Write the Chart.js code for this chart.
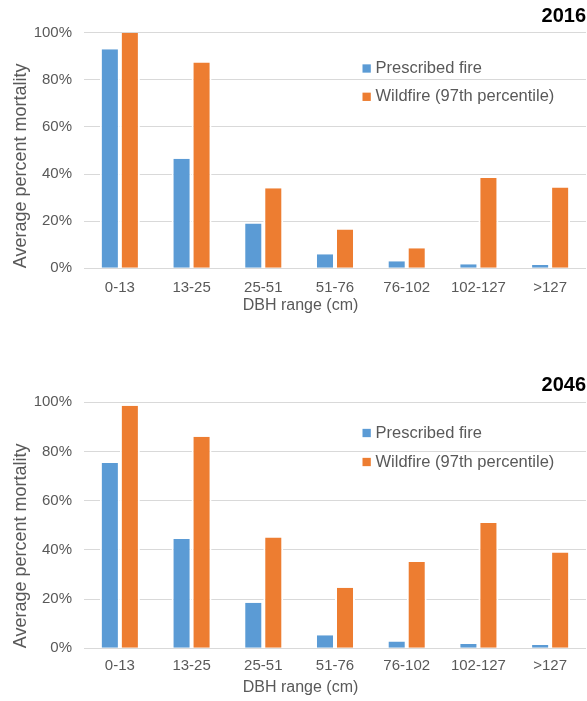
<!DOCTYPE html>
<html>
<head>
<meta charset="utf-8">
<script src="https://cdn.jsdelivr.net/npm/chart.js@4.4.1/dist/chart.umd.min.js"></script>
<style>
  html, body { margin: 0; padding: 0; background: #ffffff; }
  .wrap { position: absolute; left: 0; width: 587px; }
</style>
</head>
<body>
<div class="wrap" style="top:0px;height:330px;"><canvas id="chart2016"></canvas></div>
<div class="wrap" style="top:350px;height:351px;"><canvas id="chart2046"></canvas></div>
<script>
// ---- data ----
const categories = ['0-13', '13-25', '25-51', '51-76', '76-102', '102-127', '>127'];
const seriesNames = ['Prescribed fire', 'Wildfire (97th percentile)'];
const prescribed2016 = [93, 46.5, 19, 6, 3, 1.7, 1.4];
const wildfire2016   = [100, 87.4, 34, 16.5, 8.5, 38.3, 34.3];
const prescribed2046 = [75.3, 44.4, 18.5, 5.3, 2.8, 1.7, 1.3];
const wildfire2046   = [98.6, 86, 45, 24.6, 35.1, 50.9, 38.9];
const yTicks = [0, 20, 40, 60, 80, 100];
const yAxisTitle = 'Average percent mortality';
const xAxisTitle = 'DBH range (cm)';

// ---- styles ----
const BLUE = '#5B9BD5';
const ORANGE = '#ED7D31';
const TEXT = '#595959';
const GRID = '#D9D9D9';
Chart.defaults.font.family = "'Liberation Sans', Arial, sans-serif";
Chart.defaults.color = TEXT;

const insideLegend = {
  id: 'insideLegend',
  afterDraw(chart, args, opts) {
    const ctx = chart.ctx;
    ctx.save();
    ctx.font = opts.font;
    ctx.textBaseline = 'middle';
    ctx.textAlign = 'left';
    chart.data.datasets.forEach((ds, i) => {
      const y = opts.rows[i];
      ctx.fillStyle = ds.backgroundColor;
      ctx.fillRect(opts.boxX, y - opts.box / 2, opts.box, opts.box);
      ctx.fillStyle = opts.color;
      ctx.fillText(ds.label, opts.textX, y);
    });
    ctx.restore();
  }
};

function makeChart(id, year, prescribed, wildfire, L) {
  return new Chart(document.getElementById(id), {
    type: 'bar',
    data: {
      labels: categories,
      datasets: [
        { label: seriesNames[0], data: prescribed, backgroundColor: BLUE,
          borderColor: '#ffffff', borderWidth: { left: 2, right: 2, top: 0, bottom: 0 } },
        { label: seriesNames[1], data: wildfire, backgroundColor: ORANGE,
          borderColor: '#ffffff', borderWidth: { left: 2, right: 2, top: 0, bottom: 0 } }
      ]
    },
    plugins: [insideLegend],
    options: {
      responsive: true,
      maintainAspectRatio: false,
      animation: false,
      categoryPercentage: 0.558,
      barPercentage: 1.0,
      layout: { padding: { left: 15, right: 1, top: 0, bottom: L.padBottom } },
      plugins: {
        legend: { display: false },
        tooltip: { enabled: false },
        title: {
          display: true, text: year, align: 'end', color: '#000000',
          font: { size: 20, weight: 'bold' },
          padding: { top: L.titleTop, bottom: L.titleBottom }
        },
        subtitle: {
          display: true, text: xAxisTitle, position: 'bottom', align: 'center',
          color: TEXT, font: { size: 16 },
          padding: { top: L.subTop, bottom: 0 }
        },
        insideLegend: {
          font: "16.5px 'Liberation Sans', Arial, sans-serif",
          color: TEXT, boxX: 362.5, box: 8.3, textX: 375.5, rows: L.legendRows
        }
      },
      scales: {
        x: {
          grid: { display: false, drawTicks: false },
          border: { display: false },
          ticks: { font: { size: 15 }, color: TEXT, padding: L.xTickPad, maxRotation: 0, autoSkip: false },
          afterFit: (s) => { s.height = L.xHeight; }
        },
        y: {
          min: 0, max: 100,
          grid: { color: GRID, lineWidth: 1, drawTicks: false },
          border: { display: false },
          afterBuildTicks: (s) => { s.ticks = yTicks.map(v => ({ value: v })); },
          ticks: { font: { size: 15 }, color: TEXT, padding: 12, callback: (v) => v + '%' },
          title: {
            display: true, text: yAxisTitle, align: 'start', color: TEXT,
            font: { size: 18 }, padding: { top: -5, bottom: 0 }
          },
          afterFit: (s) => { s.width = 69; }
        }
      }
    }
  });
}

makeChart('chart2016', '2016', prescribed2016, wildfire2016, {
  titleTop: 4, titleBottom: 4.7, xTickPad: 10.2, xHeight: 28, subTop: 0, padBottom: 14.5,
  legendRows: [68.5, 96.8]
});
makeChart('chart2046', '2046', prescribed2046, wildfire2046, {
  titleTop: 23, titleBottom: 5.3, xTickPad: 8.5, xHeight: 26.5, subTop: 3.1, padBottom: 3.9,
  legendRows: [83, 112]
});
</script>
</body>
</html>
